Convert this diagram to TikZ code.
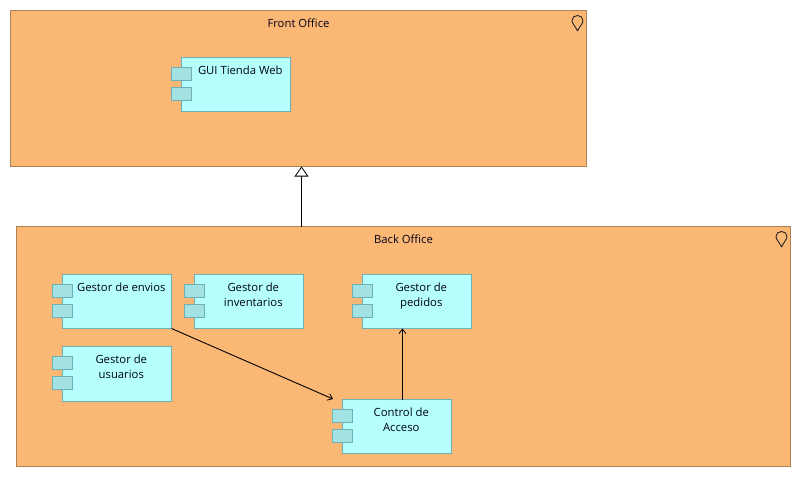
\documentclass[tikz,border=0pt]{standalone}
\usepackage{fontspec}
\setmainfont{Open Sans}
\usetikzlibrary{arrows.meta}
\definecolor{locfill}{RGB}{251,184,117}
\definecolor{locline}{RGB}{176,129,82}
\definecolor{compfill}{RGB}{181,255,255}
\definecolor{compline}{RGB}{110,175,185}
\definecolor{portfill}{RGB}{163,226,226}
\tikzset{
  x=1pt,y=-1pt,
  location/.style={draw=locline,fill=locfill,line width=0.8pt,anchor=north west,inner sep=0pt,outer sep=0pt},
  component/.style={draw=compline,fill=compfill,line width=0.8pt,anchor=north west,inner sep=0pt,outer sep=0pt,minimum width=109pt,minimum height=54pt},
  port/.style={draw=compline,fill=portfill,line width=0.8pt,anchor=north west,inner sep=0pt,outer sep=0pt,minimum width=20pt,minimum height=13pt},
  label/.style={anchor=north,align=center,inner sep=0pt,font=\fontsize{11.3}{15}\selectfont,text=black!90!blue},
  conn/.style={draw=black,line width=0.9pt},
  openarrow/.style={conn,-{Straight Barb[length=4.5pt,width=7pt,line width=0.8pt]}},
  realize/.style={conn,-{Triangle[open,length=10pt,width=14pt,line width=0.8pt,fill=white]}},
}
\newcommand{\pin}[2]{%
  \draw[line width=0.9pt,draw=black!85] (#1,#2+15)
    .. controls (#1-2,#2+10.5) and (#1-5.5,#2+7.5) .. (#1-5.5,#2+4.5)
    .. controls (#1-5.5,#2+1.5) and (#1-3,#2-0.5) .. (#1,#2-0.5)
    .. controls (#1+3,#2-0.5) and (#1+5.5,#2+1.5) .. (#1+5.5,#2+4.5)
    .. controls (#1+5.5,#2+7.5) and (#1+2,#2+10.5) .. (#1,#2+15);}
\newcommand{\comp}[5]{% name, x, y, text, height
  \node[component,minimum height=#5pt] (#1) at (#2,#3) {};
  \node[port] (#1p1) at (#2-10,#3+10) {};
  \node[port] (#1p2) at (#2-10,#3+30) {};
  \node[label] (#1t) at (#2+58.8,#3+8.3) {#4};}
\begin{document}
\begin{tikzpicture}
\useasboundingbox (0,0) rectangle (801,477);
\node[location,minimum width=576pt,minimum height=156pt] (front) at (10.5,10.5) {};
\node[location,minimum width=774pt,minimum height=240pt] (back) at (16.5,226.5) {};
\node[label] (frontt) at (298.5,18.3) {Front Office};
\node[label] (backt) at (403.5,234.3) {Back Office};
\pin{577.5}{16}
\pin{781.5}{232}
\comp{gui}{181.5}{57.5}{GUI Tienda Web}{54}
\comp{envios}{62.5}{274.5}{Gestor de envios}{54}
\comp{invent}{194.5}{274.5}{Gestor de\\inventarios}{54}
\comp{pedidos}{362.5}{274.5}{Gestor de\\pedidos}{54}
\comp{usuarios}{62.5}{346.5}{Gestor de\\usuarios}{55}
\comp{control}{342.5}{399.5}{Control de\\Acceso}{54}
\coordinate (backtop) at (301.5,226.5);
\coordinate (fronthit) at (301.5,166.5);
\coordinate (ctop) at (402.5,399.5);
\coordinate (ptop) at (402.5,328.5);
\coordinate (cend) at (333,399);
\draw[realize] (backtop) -- (fronthit);
\draw[openarrow] (ctop) -- (ptop);
\draw[openarrow] (envios.south east) -- (cend);
\end{tikzpicture}
\end{document}
